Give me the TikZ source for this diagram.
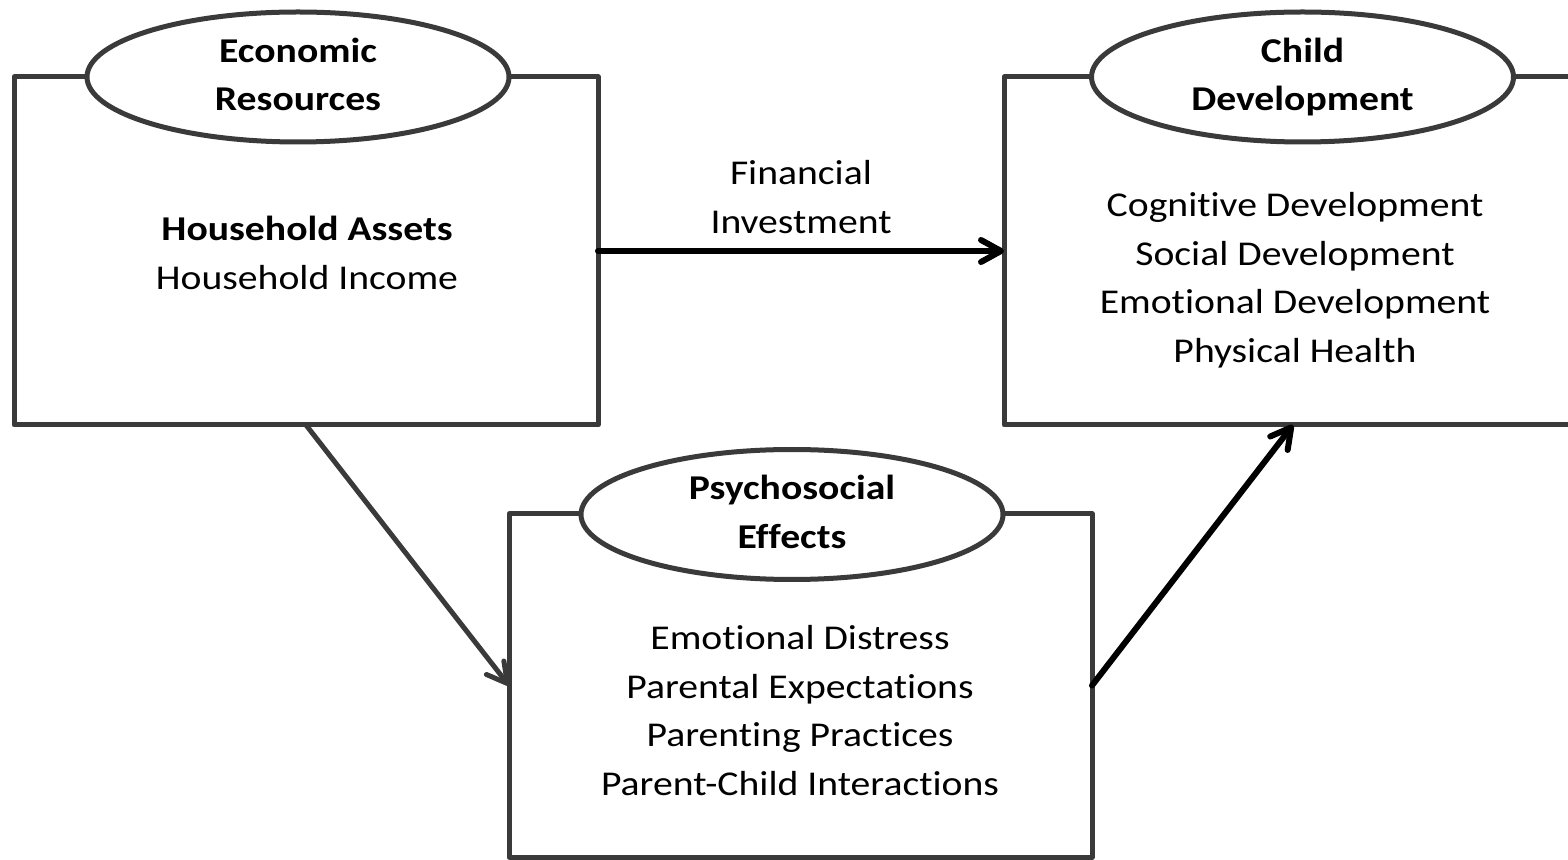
\documentclass[tikz,border=0pt]{standalone}
\usepackage{fontspec}
\setmainfont{Carlito}[FakeStretch=1.14,Ligatures=NoCommon]
\usetikzlibrary{arrows.meta,shapes.geometric}
\definecolor{boxgray}{RGB}{58,58,58}
\tikzset{
  box/.style={draw=boxgray, line width=2.5pt, line join=round, rectangle, inner sep=0pt, outer sep=0pt},
  ellip/.style={draw=boxgray, fill=white, line width=2.5pt, ellipse,
    minimum width=211pt, minimum height=65pt, inner sep=-10pt, outer sep=0pt,
    align=center, font=\fontsize{17.4}{24.25}\selectfont\bfseries},
  body/.style={align=center, inner sep=0pt, font=\fontsize{17.4}{24.25}\selectfont},
  arr/.style={line width=3pt, line cap=round,
    -{Straight Barb[length=10pt,width=11pt,line cap=round,line join=round]}},
}
\begin{document}
\begin{tikzpicture}[x=0.5pt,y=-0.5pt]
\useasboundingbox (0,0) rectangle (1568,860);
\clip (0,0) rectangle (1568,860);
% boxes
\node[box, minimum width=292pt, minimum height=174pt] (econ) at (306,251) {};
\node[box, minimum width=289pt, minimum height=174pt] (child) at (1293,251) {};
\node[box, minimum width=291.5pt, minimum height=171.5pt] (psych) at (800.5,685.5) {};
% title ellipses
\node[ellip] (econT) at (298,77) {\strut Economic\\\strut Resources};
\node[ellip] (childT) at (1302.5,77) {\strut Child\\\strut Development};
\node[ellip] (psychT) at (792,514.5) {\strut Psychosocial\\\strut Effects};
% box contents
\node[body] (econB) at (307,255.5) {\strut\textbf{Household Assets}\\\strut Household Income};
\node[body] (childB) at (1295,280) {\strut Cognitive Development\\\strut Social Development\\\strut Emotional Development\\\strut Physical Health};
\node[body] (psychB) at (800,713) {\strut Emotional Distress\\\strut Parental Expectations\\\strut Parenting Practices\\\strut Parent-Child Interactions};
% connectors
\draw[arr, draw=boxgray, line width=2.5pt] (econ.south) -- (psych.west);
\draw[arr] (econ.east) -- node[body, above] {\strut Financial\\\strut Investment} (child.west);
\draw[arr] (psych.east) -- (child.south);
\end{tikzpicture}
\end{document}
